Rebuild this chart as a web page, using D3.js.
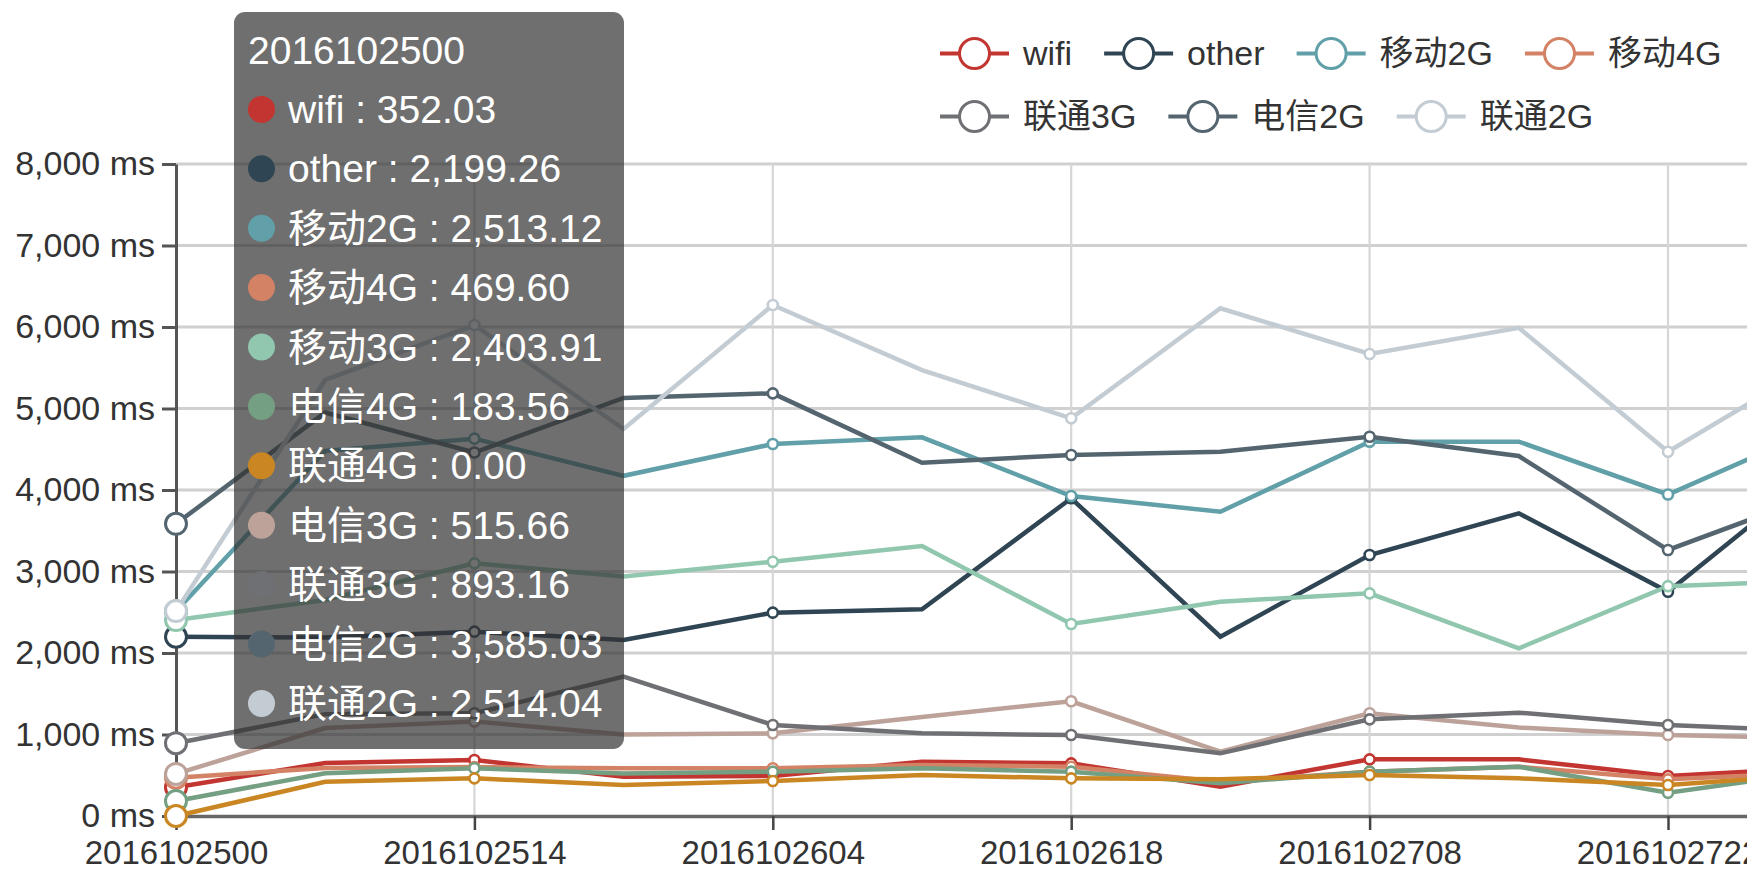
<!DOCTYPE html>
<html><head><meta charset="utf-8">
<script src="https://cdn.jsdelivr.net/npm/d3@7"></script>
<style>
html,body{margin:0;padding:0;background:#fff;overflow:hidden;}
svg{display:block;overflow:hidden;}
text{font-family:"Liberation Sans",Arial,"Noto Sans CJK SC",sans-serif;}
</style></head><body>
<svg id="chart" width="1747" height="872"></svg>
<script>
// ---------- data ----------
const categories = ['2016102500','2016102507','2016102514','2016102521','2016102604','2016102611',
                    '2016102618','2016102701','2016102708','2016102715','2016102722','2016102805'];
const xTickLabels = ['2016102500','2016102514','2016102604','2016102618','2016102708','2016102722'];
const yTickValues = [0,1000,2000,3000,4000,5000,6000,7000,8000];
const seriesNames = ['wifi','other','移动2G','移动4G','移动3G','电信4G','联通4G','电信3G','联通3G','电信2G','联通2G'];
const seriesColors = ['#c23531','#2f4554','#61a0a8','#d48265','#91c7ae','#749f83','#ca8622','#bda29a','#6e7074','#546570','#c4ccd3'];

const wifiData   = [352.03, 650, 687, 483, 491, 667, 646, 360, 695, 695, 491, 591];
const otherData  = [2199.26, 2190, 2262, 2160, 2495, 2536, 3898, 2200, 3202, 3714, 2752, 4227];
const yd2GData   = [2513.12, 4480, 4630, 4174, 4564, 4646, 3926, 3734, 4593, 4593, 3945, 4748];
const yd4GData   = [469.60, 590, 600, 585, 585, 626, 605, 420, 544, 605, 450, 530];
const yd3GData   = [2403.91, 2650, 3100, 2940, 3120, 3313, 2356, 2630, 2732, 2057, 2820, 2889];
const dx4GData   = [183.56, 525, 585, 523, 544, 585, 544, 401, 544, 605, 286, 540];
const lt4GData   = [0.00, 420, 462, 380, 430, 503, 462, 450, 503, 462, 380, 510];
const dx3GData   = [515.66, 1080, 1160, 1000, 1014, 1216, 1408, 789, 1260, 1085, 993, 953];
const lt3GData   = [893.16, 1250, 1260, 1710, 1117, 1014, 993, 769, 1186, 1268, 1117, 1040];
const dx2GData   = [3585.03, 4950, 4460, 5130, 5186, 4335, 4429, 4470, 4654, 4417, 3264, 3941];
const lt2GData   = [2514.04, 5350, 6024, 4748, 6270, 5472, 4880, 6230, 5669, 5990, 4470, 5560];

const seriesValues = [wifiData, otherData, yd2GData, yd4GData, yd3GData, dx4GData, lt4GData, dx3GData, lt3GData, dx2GData, lt2GData];
const legendRows = [['wifi','other','移动2G','移动4G'], ['联通3G','电信2G','联通2G']];
const tooltipIndex = 0;

// ---------- layout ----------
const svg = d3.select('#chart');
const W = 1747;
const left = 176, step = 149.2;
const x = d3.scalePoint().domain(categories).range([left, left + step * (categories.length - 1)]);
const y = d3.scaleLinear().domain([0, 8000]).range([816, 164]);
const fmtAxis = d3.format(',');
const fmtTip = d3.format(',.2f');

// grid
const grid = svg.append('g');
grid.selectAll('line.h').data(yTickValues.filter(v => v > 0)).join('line')
  .attr('x1', left).attr('x2', W).attr('y1', d => y(d)).attr('y2', d => y(d))
  .attr('stroke', '#d0d0d0').attr('stroke-width', 3);
grid.selectAll('line.v').data(xTickLabels.slice(1)).join('line')
  .attr('x1', d => x(d)).attr('x2', d => x(d)).attr('y1', y(8000)).attr('y2', y(0))
  .attr('stroke', '#d6d6d6').attr('stroke-width', 2.2);

// axes
const yAxis = d3.axisLeft(y).tickValues(yTickValues).tickSize(14).tickSizeOuter(0).tickPadding(7)
  .tickFormat(d => fmtAxis(d) + ' ms');
const gy = svg.append('g').attr('transform', `translate(${left},0)`).call(yAxis);
gy.select('.domain').attr('stroke', '#555').attr('stroke-width', 3);
gy.selectAll('.tick line').attr('stroke', '#555').attr('stroke-width', 3);
gy.selectAll('.tick text').attr('font-size', 34).attr('fill', '#333')
  .attr('font-family', '"Liberation Sans",Arial,sans-serif');

const xAxis = d3.axisBottom(x).tickValues(xTickLabels).tickSize(14).tickSizeOuter(0).tickPadding(11);
const gx = svg.append('g').attr('transform', `translate(0,${y(0)})`).call(xAxis);
gx.select('.domain').attr('stroke', '#666').attr('stroke-width', 3.5);
gx.selectAll('.tick line').attr('stroke', '#444').attr('stroke-width', 2.5);
gx.selectAll('.tick text').attr('font-size', 33).attr('fill', '#333')
  .attr('font-family', '"Liberation Sans",Arial,sans-serif');

// lines
const line = d3.line().x((d, i) => x(categories[i])).y(d => y(d));
const lines = svg.append('g');
seriesValues.forEach((vals, s) => {
  lines.append('path').attr('d', line(vals)).attr('fill', 'none')
    .attr('stroke', seriesColors[s]).attr('stroke-width', 4.5).attr('stroke-linejoin', 'miter');
});
// symbols (shown at labelled categories; the hovered one enlarged)
const syms = svg.append('g');
seriesValues.forEach((vals, s) => {
  vals.forEach((v, i) => {
    if (i % 2 !== 0) return;
    syms.append('circle').attr('cx', x(categories[i])).attr('cy', y(v))
      .attr('r', i === tooltipIndex ? 10.5 : 5)
      .attr('fill', '#fff').attr('stroke', seriesColors[s])
      .attr('stroke-width', i === tooltipIndex ? 3 : 2.6);
  });
});

// legend
const legend = svg.append('g');
const rowY = [53.5, 116.5];
const iconW = 69;
legendRows.forEach((row, r) => {
  let cx = 940;
  row.forEach(name => {
    const c = seriesColors[seriesNames.indexOf(name)];
    const g = legend.append('g');
    g.append('line').attr('x1', cx).attr('x2', cx + iconW).attr('y1', rowY[r]).attr('y2', rowY[r])
      .attr('stroke', c).attr('stroke-width', 4);
    g.append('circle').attr('cx', cx + iconW / 2).attr('cy', rowY[r]).attr('r', 15)
      .attr('fill', '#fff').attr('stroke', c).attr('stroke-width', 3);
    const t = g.append('text').attr('x', cx + iconW + 14).attr('y', rowY[r]).attr('dy', '0.35em')
      .attr('font-size', 34).attr('fill', '#333').text(name);
    cx += iconW + 14 + t.node().getComputedTextLength() + 32;
  });
});

// tooltip
const tip = svg.append('g');
tip.append('rect').attr('x', 234).attr('y', 12).attr('width', 390).attr('height', 737)
  .attr('rx', 11).attr('fill', 'rgba(50,50,50,0.7)');
const rowStep = 59.4, firstRow = 50;
tip.append('text').attr('x', 248).attr('y', firstRow).attr('dy', '0.35em')
  .attr('font-size', 39).attr('fill', '#fff').text(categories[tooltipIndex]);
seriesNames.forEach((name, s) => {
  const cy = firstRow + rowStep * (s + 1);
  tip.append('circle').attr('cx', 261.5).attr('cy', cy).attr('r', 13.5).attr('fill', seriesColors[s]);
  tip.append('text').attr('x', 288).attr('y', cy).attr('dy', '0.35em')
    .attr('font-size', 39).attr('fill', '#fff')
    .text(name + ' : ' + fmtTip(seriesValues[s][tooltipIndex]));
});
</script>
</body></html>
